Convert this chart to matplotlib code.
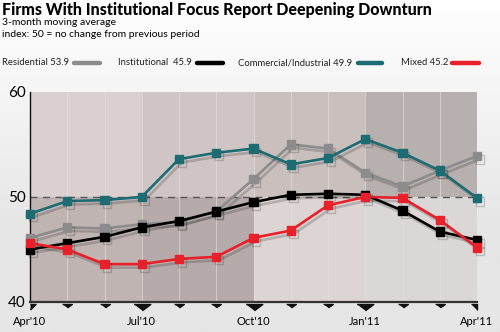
import matplotlib
matplotlib.use("Agg")
import matplotlib.pyplot as plt
import matplotlib.patheffects as pe
from matplotlib.lines import Line2D
import numpy as np

plt.rcParams['font.family'] = ['Lato', 'DejaVu Sans']

months = ["Apr'10", "May'10", "Jun'10", "Jul'10", "Aug'10", "Sep'10", "Oct'10",
          "Nov'10", "Dec'10", "Jan'11", "Feb'11", "Mar'11", "Apr'11"]
tick_labels = ["Apr'10", "Jul'10", "Oct'10", "Jan'11", "Apr'11"]

residential = [46.1, 47.1, 47.0, 47.4, 47.6, 48.6, 51.7, 55.0, 54.6, 52.3, 51.0, 52.5, 53.9]
institutional = [45.0, 45.6, 46.2, 47.1, 47.7, 48.6, 49.5, 50.2, 50.3, 50.2, 48.7, 46.7, 45.9]
commercial = [48.4, 49.6, 49.7, 50.0, 53.6, 54.2, 54.6, 53.1, 53.7, 55.5, 54.2, 52.5, 49.9]
mixed = [45.6, 45.0, 43.6, 43.6, 44.1, 44.3, 46.1, 46.8, 49.2, 50.0, 49.9, 47.8, 45.2]

series = [
    ("Residential 53.9", residential, "#8c8c8c"),
    ("Institutional  45.9", institutional, "#000000"),
    ("Commercial/Industrial 49.9", commercial, "#1d6b73"),
    ("Mixed 45.2", mixed, "#e8202a"),
]

# quarter shading (above 50 / below 50)
upper_cols = ["#d9d0cf", "#cfc5c4", "#c9c0be", "#b8b0ae"]
lower_cols = ["#c0b4b3", "#b6abaa", "#ddd5d4", "#dad7d6"]

fig = plt.figure(figsize=(5, 3.32), dpi=100, facecolor="white")

# soft grey wash toward the bottom of the figure
bg = fig.add_axes([0, 0, 1, 1], zorder=-10)
grad = np.linspace(0, 1, 200)
grad = np.clip((grad - 0.3) / 0.7, 0, 1)[:, None]
bg.imshow(grad, aspect="auto", cmap=matplotlib.colors.LinearSegmentedColormap.from_list(
    "wash", ["#e6e6e6", "#ffffff"]), extent=[0, 1, 0, 1], origin="lower")
bg.set_axis_off()

ax = fig.add_axes([0.06, 0.0904, 0.894, 0.633])
ax.patch.set_alpha(0)
x = np.arange(len(months))

for q in range(4):
    ax.axvspan(q * 3, q * 3 + 3, ymin=0.5, ymax=1, color=upper_cols[q], lw=0, zorder=0)
    ax.axvspan(q * 3, q * 3 + 3, ymin=0, ymax=0.5, color=lower_cols[q], lw=0, zorder=0)
for i in x[1:-1]:
    ax.axvline(i, color="#e6e0df", lw=0.8, alpha=0.6, zorder=1)

ax.axhline(50, color="#555555", lw=1.0, ls=(0, (5, 4)), zorder=2)

shadow = [pe.SimpleLineShadow(offset=(2, -2.5), alpha=0.22, shadow_color="#222222"), pe.Normal()]
for name, vals, col in series:
    ax.plot(x, vals, color=col, lw=1.9, marker="s", ms=6, mec=col, mfc=col,
            zorder=3, path_effects=shadow, clip_on=False)

ax.set_xlim(0, 12)
ax.set_ylim(40, 60)
ax.set_yticks([40, 50, 60])
ax.set_yticklabels(["40", "50", "60"], fontsize=11)
ax.tick_params(axis="y", length=0, pad=3)
ax.set_xticks([0, 3, 6, 9, 12])
ax.set_xticklabels(tick_labels, fontsize=8)
ax.tick_params(axis="x", length=0, pad=10)
for s in ["top", "right"]:
    ax.spines[s].set_visible(False)
ax.spines["left"].set_color("#111111")
ax.spines["left"].set_linewidth(1.0)
ax.spines["bottom"].set_color("#333333")
ax.spines["bottom"].set_linewidth(1.6)

# triangle tick markers below the axis
tr = ax.get_xaxis_transform()
small_tri = [(-1, 0), (1, 0), (0, -0.7)]
big_tri = [(-1, 0), (1, 0), (0, -0.75)]
left_tri = [(0, 0), (1, 0), (0, -1)]
right_tri = [(-1, 0), (0, 0), (0, -1)]
for i in x:
    if i == 0:
        m, s = left_tri, 8
    elif i == 12:
        m, s = right_tri, 8
    elif i % 3 == 0:
        m, s = big_tri, 12
    else:
        m, s = small_tri, 7
    ax.plot(i, -0.008, marker=m, ms=s, color="#111111", lw=0,
            transform=tr, clip_on=False, zorder=5)

fig.text(0.004, 0.995, "Firms With Institutional Focus Report Deepening Downturn",
         fontsize=11.5, fontweight="black", va="top", ha="left")
fig.text(0.004, 0.945, "3-month moving average", fontsize=7.5, va="top", ha="left")
fig.text(0.004, 0.909, "index: 50 = no change from previous period", fontsize=7.5,
         va="top", ha="left")

leg_y = 0.811
leg = [(0.004, 0.147, 0.2), (0.236, 0.394, 0.446), (0.476, 0.716, 0.764), (0.802, 0.904, 0.958)]
for (name, vals, col), (tx, l0, l1) in zip(series, leg):
    fig.text(tx, leg_y, name, fontsize=6.8, va="center", ha="left", color="#222222")
    fig.add_artist(Line2D([l0, l1], [leg_y, leg_y], color=col, lw=3.2,
                          solid_capstyle="round", transform=fig.transFigure))

fig.savefig("out.png", dpi=100, facecolor=fig.get_facecolor())
